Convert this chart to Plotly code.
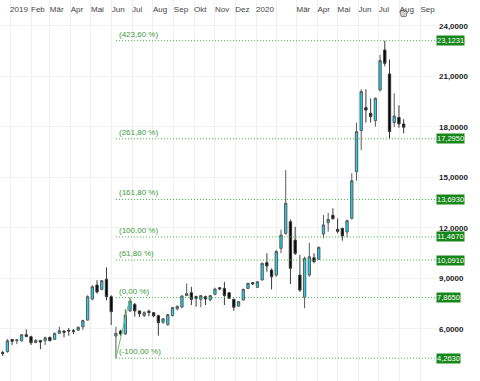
import pandas as pd
import plotly.graph_objects as go

# ---- data (weekly candles) ----
start_date = "2018-12-21"
n_weeks = 86
opens = [4.60, 4.65, 5.38, 5.30, 5.30, 5.66, 5.54, 5.20, 5.32, 5.30,
         5.50, 5.38, 5.74, 5.88, 5.92, 5.90, 5.93, 6.13, 6.53, 7.78,
         8.61, 8.35, 8.95, 7.92, 5.58, 5.88, 5.70, 7.08, 7.46, 7.07,
         6.80, 7.05, 6.97, 6.79, 6.40, 6.25, 6.80, 7.20, 7.30, 7.98,
         8.15, 7.92, 7.76, 7.92, 7.74, 8.06, 8.45, 8.41, 8.15, 7.76,
         7.36, 7.72, 8.41, 8.75, 8.47, 8.91, 9.94, 9.50, 9.20, 10.79,
         11.68, 12.37, 11.28, 9.20, 7.88, 9.20, 10.23, 10.14, 11.64, 12.31,
         12.75, 11.92, 11.98, 11.76, 12.57, 15.34, 17.78, 19.15, 18.81, 18.37,
         20.20, 22.57, 21.15, 18.26, 18.57, 18.18]
highs = [4.70, 5.40, 5.40, 5.40, 5.70, 5.98, 5.60, 5.40, 5.35, 5.55,
         5.55, 5.78, 6.13, 5.92, 6.05, 6.00, 6.15, 6.55, 8.00, 8.60,
         8.90, 8.90, 9.66, 8.00, 6.13, 5.95, 7.17, 7.865, 7.55, 7.10,
         7.05, 7.15, 7.00, 6.85, 6.65, 6.90, 7.30, 7.40, 8.00, 8.70,
         8.50, 7.98, 8.02, 7.98, 8.02, 8.45, 8.50, 8.80, 8.20, 7.80,
         7.66, 8.40, 8.75, 8.80, 8.85, 9.95, 10.50, 9.60, 10.70, 11.90,
         15.44, 12.50, 12.07, 10.40, 10.30, 11.12, 10.50, 10.90, 12.77, 12.91,
         13.17, 12.57, 12.00, 12.50, 15.25, 18.26, 20.24, 20.24, 19.70, 19.75,
         22.28, 23.1231, 22.00, 20.00, 19.29, 18.46]
lows = [4.40, 4.60, 5.05, 5.10, 5.25, 5.50, 5.05, 5.15, 4.80, 5.05,
        5.28, 5.35, 5.70, 5.50, 5.60, 5.70, 5.90, 5.95, 6.50, 7.70,
        8.10, 8.30, 7.70, 6.23, 4.263, 5.60, 5.65, 7.00, 6.73, 6.70,
        6.70, 6.75, 6.70, 5.60, 6.30, 6.20, 6.75, 7.10, 7.25, 7.95,
        7.42, 7.32, 7.30, 7.42, 7.65, 8.00, 8.30, 7.42, 7.80, 7.08,
        7.30, 7.70, 8.38, 8.60, 8.45, 8.88, 9.40, 8.35, 9.10, 10.50,
        11.60, 8.67, 10.40, 8.20, 7.23, 9.10, 9.90, 10.10, 11.39, 11.78,
        12.50, 11.68, 11.24, 11.44, 12.50, 14.81, 16.63, 18.26, 18.26, 18.02,
        20.10, 21.60, 17.295, 18.00, 17.95, 17.62]
closes = [4.55, 5.30, 5.27, 5.35, 5.66, 5.56, 5.18, 5.32, 5.22, 5.48,
          5.30, 5.74, 5.90, 5.80, 5.88, 5.86, 6.10, 6.50, 7.92, 8.51,
          8.20, 8.87, 7.92, 7.03, 5.74, 5.70, 6.83, 7.66, 7.07, 6.90,
          6.97, 6.98, 6.78, 6.37, 6.60, 6.85, 7.28, 7.35, 7.96, 8.10,
          7.76, 7.83, 7.98, 7.78, 7.98, 8.37, 8.38, 7.98, 7.82, 7.29,
          7.62, 8.35, 8.71, 8.68, 8.81, 9.90, 9.74, 9.10, 10.60, 11.58,
          13.47, 9.60, 10.49, 8.31, 10.20, 10.29, 10.00, 10.85, 12.18, 12.51,
          12.55, 11.80, 11.52, 12.43, 14.81, 17.72, 20.10, 19.00, 18.61, 19.70,
          21.94, 21.78, 17.72, 18.65, 18.18, 17.98]

# Fibonacci extension levels
fib_pcts = [423.6, 261.8, 161.8, 100.0, 61.8, 0.0, -100.0]
fib_vals = [23.1231, 17.2950, 13.6930, 11.4670, 10.0910, 7.8650, 4.2630]
fib_low_idx = 24      # candle holding the -100 % low
fib_high_idx = 27     # candle holding the 0 % high

# axis ticks
month_ticks = ["2019-01-01", "2019-02-01", "2019-03-01", "2019-04-01", "2019-05-01",
               "2019-06-01", "2019-07-01", "2019-08-01", "2019-09-01", "2019-10-01",
               "2019-11-01", "2019-12-01", "2020-01-01", "2020-02-01", "2020-03-01",
               "2020-04-01", "2020-05-01", "2020-06-01", "2020-07-01", "2020-08-01",
               "2020-09-01"]
month_labels = ["2019", "Feb", "Mär", "Apr", "Mai", "Jun", "Jul", "Aug", "Sep", "Okt",
                "Nov", "Dez", "2020", "", "Mär", "Apr", "Mai", "Jun", "Jul", "Aug", "Sep"]
y_ticks = [6, 9, 12, 15, 18, 21, 24]
x_range = ["2018-12-17", "2020-09-24"]
y_range = [2.91, 25.54]
icon_y = [24.75]

dates = pd.date_range(start_date, periods=n_weeks, freq="7D")

FIB_GREEN = "#3db03d"
FONT = "Liberation Sans, Arial, sans-serif"
fig = go.Figure()

# fib dotted lines
for v in fib_vals:
    fig.add_trace(go.Scatter(x=[dates[fib_low_idx], pd.Timestamp(x_range[1])], y=[v, v],
                             mode="lines", line=dict(color=FIB_GREEN, width=1, dash="1px,2px"),
                             hoverinfo="skip", showlegend=False))

# anchor line
fig.add_trace(go.Scatter(x=[dates[fib_low_idx], dates[fib_high_idx]],
                         y=[lows[fib_low_idx], highs[fib_high_idx]],
                         mode="lines", line=dict(color="#6cc46c", width=1),
                         hoverinfo="skip", showlegend=False))

fig.add_trace(go.Candlestick(
    x=dates, open=opens, high=highs, low=lows, close=closes,
    increasing=dict(fillcolor="#14d6f5", line=dict(color="#5a5a5a", width=1)),
    decreasing=dict(fillcolor="#000000", line=dict(color="#3a3a3a", width=1)),
    whiskerwidth=0, showlegend=False))

# small marker icon above last candle
fig.add_trace(go.Scatter(x=[dates[-1]], y=icon_y, mode="markers",
                         marker=dict(symbol="pentagon", size=8, color="#d0d0d0",
                                     line=dict(color="#808080", width=1)),
                         hoverinfo="skip", showlegend=False))

for p, v in zip(fib_pcts, fib_vals):
    fig.add_annotation(x=dates[fib_low_idx], y=v, xref="x", yref="y",
                       text=("(%.2f %%)" % p).replace(".", ","),
                       showarrow=False, xanchor="left", yanchor="bottom",
                       xshift=1, yshift=0,
                       font=dict(family=FONT, size=8, color="#3a9a3a"))
    fig.add_annotation(x=1, y=v, xref="paper", yref="y",
                       text=("%.4f" % v).replace(".", ","),
                       showarrow=False, xanchor="left", yanchor="middle", xshift=0,
                       bgcolor="#17871a", borderpad=0,
                       font=dict(family=FONT, size=7.5, color="white"))

fig.update_layout(
    width=480, height=381,
    margin=dict(l=0, r=44, t=0, b=0, pad=0, autoexpand=False),
    paper_bgcolor="white", plot_bgcolor="white",
    separators=",.",
    showlegend=False,
    xaxis=dict(type="date", range=x_range, side="top",
               tickvals=month_ticks, ticktext=month_labels, tickangle=0,
               ticklabelposition="inside right", automargin=False,
               tickfont=dict(family=FONT, size=8, color="#444"),
               showgrid=True, gridcolor="#efefef", gridwidth=1,
               zeroline=False, showline=False, ticks="",
               rangeslider=dict(visible=False), fixedrange=True),
    yaxis=dict(range=y_range, side="right", tickvals=y_ticks, tickformat=".4f",
               automargin=False,
               tickfont=dict(family=FONT, size=8, color="#222", weight="bold"),
               showgrid=True, gridcolor="#f2f2f2", zeroline=False, showline=False,
               ticks="", ticklabelstandoff=2, fixedrange=True),
)

fig.write_html("out.html", config={"displayModeBar": False},
               post_script="document.body.style.margin='0';document.body.style.padding='0';")
